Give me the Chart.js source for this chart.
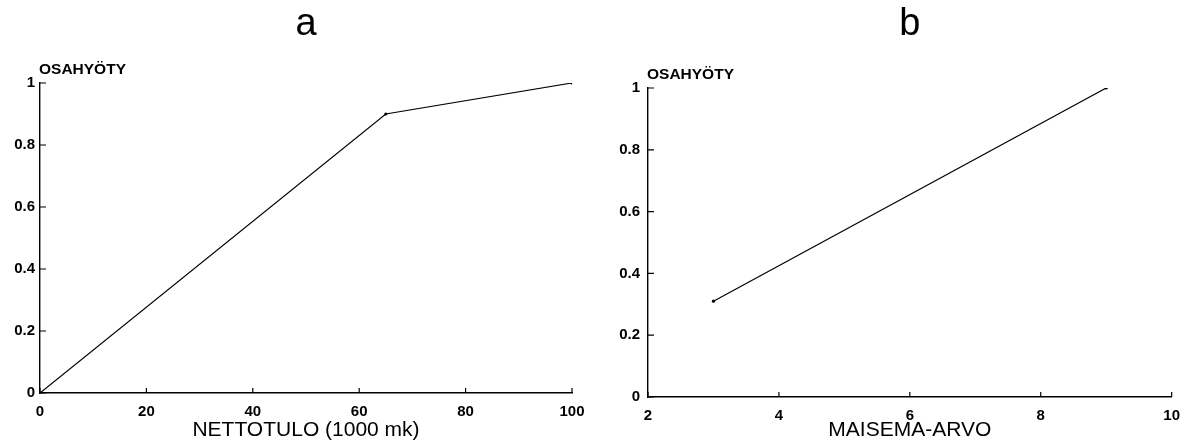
<!DOCTYPE html>
<html>
<head>
<meta charset="utf-8">
<script src="https://cdn.jsdelivr.net/npm/chart.js@4"></script>
<style>
  html, body { margin: 0; padding: 0; background: #fff; }
  #wrap { position: relative; width: 1190px; height: 443px; }
  canvas { position: absolute; top: 0; }
</style>
</head>
<body>
<div id="wrap">
  <canvas id="chartA" width="595" height="443" style="left:0"></canvas>
  <canvas id="chartB" width="595" height="443" style="left:595px"></canvas>
</div>
<script>
// Panel a: partial utility of net income
var incomeX = [0, 65, 100];
var incomeUtility = [0, 0.9, 1.0];

// Panel b: partial utility of landscape value
var landscapeX = [3, 9];
var landscapeUtility = [0.31, 1.0];

var yTicks = [0, 0.2, 0.4, 0.6, 0.8, 1];

var fontFamily = '"Liberation Sans", Arial, Helvetica, sans-serif';

// Draws the panel letter, the y label and the small inward tick marks
var extrasPlugin = {
    id: 'extras',
    afterDraw: function (chart, args, opts) {
        var ctx = chart.ctx;
        var area = chart.chartArea;
        ctx.save();
        ctx.fillStyle = '#000';

        // panel letter
        ctx.font = '38px ' + fontFamily;
        ctx.textAlign = 'center';
        ctx.textBaseline = 'alphabetic';
        ctx.fillText(opts.letter, (area.left + area.right) / 2, 35);

        // y label above the axis
        ctx.font = 'bold 15.5px ' + fontFamily;
        ctx.textAlign = 'left';
        ctx.fillText('OSAHYÖTY', area.left - 1, area.top - 9);

        // inward ticks
        ctx.strokeStyle = '#000';
        ctx.lineWidth = 1.2;
        ctx.beginPath();
        var xs = chart.scales.x;
        xs.ticks.forEach(function (t) {
            var px = xs.getPixelForValue(t.value);
            ctx.moveTo(px, area.bottom);
            ctx.lineTo(px, area.bottom - 5);
        });
        var ys = chart.scales.y;
        ys.ticks.forEach(function (t) {
            var py = ys.getPixelForValue(t.value);
            ctx.moveTo(area.left, py);
            ctx.lineTo(area.left + 6, py);
        });
        ctx.stroke();
        ctx.restore();
    }
};

function makeChart(id, xs, ys, cfg) {
    var points = xs.map(function (x, i) { return { x: x, y: ys[i] }; });
    return new Chart(document.getElementById(id), {
        type: 'line',
        data: {
            datasets: [{
                data: points,
                borderColor: '#000',
                borderWidth: 1.2,
                pointRadius: 1.6,
                pointBackgroundColor: '#000',
                pointBorderWidth: 0,
                tension: 0,
                fill: false
            }]
        },
        options: {
            responsive: false,
            animation: false,
            layout: { padding: { top: cfg.top, right: cfg.right, left: 0, bottom: 0 } },
            plugins: {
                legend: { display: false },
                tooltip: { enabled: false },
                extras: { letter: cfg.letter }
            },
            scales: {
                x: {
                    type: 'linear',
                    min: cfg.xMin,
                    max: cfg.xMax,
                    grid: { display: false, tickLength: 0 },
                    border: { display: true, color: '#000', width: 1.4 },
                    ticks: {
                        stepSize: cfg.xStep,
                        color: '#000',
                        padding: cfg.xPad,
                        maxRotation: 0,
                        font: { family: fontFamily, size: 15, weight: 'bold' }
                    },
                    title: {
                        display: true,
                        text: cfg.xTitle,
                        color: '#000',
                        padding: { top: 0, bottom: 0 },
                        font: { family: fontFamily, size: 21 }
                    },
                    afterFit: function (scale) { scale.height = cfg.xHeight; }
                },
                y: {
                    type: 'linear',
                    min: 0,
                    max: 1,
                    grid: { display: false, tickLength: 0 },
                    border: { display: true, color: '#000', width: 1.4 },
                    afterBuildTicks: function (scale) {
                        scale.ticks = yTicks.map(function (v) { return { value: v }; });
                    },
                    ticks: {
                        color: '#000',
                        padding: cfg.yPad,
                        callback: function (v) { return String(v); },
                        font: { family: fontFamily, size: 15, weight: 'bold' }
                    },
                    afterFit: function (scale) { scale.width = cfg.yWidth; }
                }
            }
        },
        plugins: [extrasPlugin]
    });
}

makeChart('chartA', incomeX, incomeUtility, {
    letter: 'a', xTitle: 'NETTOTULO (1000 mk)',
    xMin: 0, xMax: 100, xStep: 20,
    top: 83, right: 23, yWidth: 40, xHeight: 50,
    xPad: 10, yPad: 5
});

makeChart('chartB', landscapeX, landscapeUtility, {
    letter: 'b', xTitle: 'MAISEMA-ARVO',
    xMin: 2, xMax: 10, xStep: 2,
    top: 88, right: 10, yWidth: 53, xHeight: 46,
    xPad: 10, yPad: 8
});
</script>
</body>
</html>
